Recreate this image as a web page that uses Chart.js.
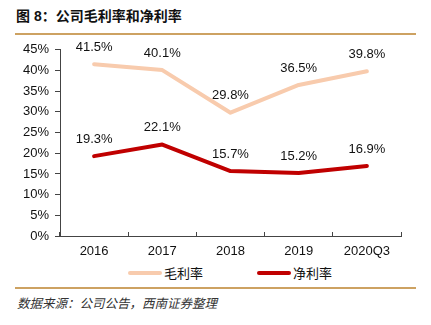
<!DOCTYPE html>
<html lang="zh">
<head>
  <meta charset="UTF-8" />
  <title>公司毛利率和净利率</title>
  <script src="https://cdn.jsdelivr.net/npm/chart.js"></script>
  <style>
    body {
      margin: 0;
      width: 431px;
      height: 325px;
      background: #fff;
      position: relative;
      overflow: hidden;
      font-family: 'Liberation Sans', Arial, 'Noto Sans CJK SC', sans-serif;
    }

    .title {
      position: absolute;
      left: 16px;
      top: 5px;
      font-family: 'Liberation Sans', 'Noto Sans CJK SC', sans-serif;
      font-weight: bold;
      font-size: 14px;
      color: #111;
    }

    .rule {
      position: absolute;
      left: 15px;
      width: 401px;
      background: #CDA262;
    }

    .chart-box {
      position: absolute;
      left: 0;
      top: 36px;
      width: 431px;
      height: 224px;
    }

    .legend {
      position: absolute;
      top: 264px;
      left: 0;
      width: 431px;
      height: 18px;
      font-family: 'Noto Sans CJK SC', sans-serif;
      font-size: 13px;
      color: #111;
    }

    .legend span {
      position: absolute;
      top: 0;
      line-height: 18px;
    }

    .legend i {
      position: absolute;
      top: 7px;
      width: 34px;
      height: 4px;
      border-radius: 2px;
    }

    .source {
      position: absolute;
      left: 17px;
      top: 293px;
      font-family: 'Noto Sans CJK SC', sans-serif;
      font-style: italic;
      font-size: 12.5px;
      color: #333;
    }
  </style>
</head>
<body>

<div class="title">图 8：公司毛利率和净利率</div>
<div class="rule" style="top:33px;height:2px;"></div>

<div class="chart-box"><canvas id="chart"></canvas></div>

<div class="legend" id="legend"></div>

<div class="rule" style="top:287px;height:1.5px;"></div>
<div class="source">数据来源：公司公告，西南证券整理</div>

<script>
const categories = ['2016', '2017', '2018', '2019', '2020Q3'];
const grossMargin = [41.5, 40.1, 29.8, 36.5, 39.8];
const netMargin = [19.3, 22.1, 15.7, 15.2, 16.9];
const seriesNames = ['毛利率', '净利率'];
const seriesColors = ['#F8CBAD', '#C00000'];

// values printed above each point
const pointLabels = {
  id: 'pointLabels',
  afterDatasetsDraw(chart) {
    const ctx = chart.ctx;
    ctx.save();
    ctx.font = '13px "Liberation Sans", Arial, sans-serif';
    ctx.fillStyle = '#111';
    ctx.textAlign = 'center';
    ctx.textBaseline = 'middle';
    chart.data.datasets.forEach((ds, i) => {
      chart.getDatasetMeta(i).data.forEach((pt, j) => {
        ctx.fillText(ds.data[j].toFixed(1) + '%', pt.x, pt.y - 17);
      });
    });
    ctx.restore();
  }
};

new Chart(document.getElementById('chart'), {
  type: 'line',
  data: {
    labels: categories,
    datasets: [
      { label: seriesNames[0], data: grossMargin, borderColor: seriesColors[0], backgroundColor: seriesColors[0], borderWidth: 4 },
      { label: seriesNames[1], data: netMargin, borderColor: seriesColors[1], backgroundColor: seriesColors[1], borderWidth: 4 }
    ]
  },
  options: {
    responsive: true,
    maintainAspectRatio: false,
    animation: false,
    layout: { padding: { left: 0, right: 30, top: 13, bottom: 0 } },
    elements: {
      line: { tension: 0, borderCapStyle: 'round', borderJoinStyle: 'round' },
      point: { radius: 0, hoverRadius: 0 }
    },
    plugins: {
      legend: { display: false },
      tooltip: { enabled: false }
    },
    scales: {
      x: {
        offset: true,
        grid: { offset: true, drawOnChartArea: false, color: '#444', tickLength: -4 },
        border: { color: '#444', width: 1 },
        ticks: {
          padding: 12,
          color: '#111',
          font: { family: '"Liberation Sans", Arial, sans-serif', size: 13 }
        },
        afterFit(scale) { scale.height = 24; }
      },
      y: {
        min: 0,
        max: 45,
        grid: { drawOnChartArea: false, color: '#444', tickLength: 5 },
        border: { color: '#444', width: 1 },
        ticks: {
          stepSize: 5,
          padding: 6,
          color: '#111',
          font: { family: '"Liberation Sans", Arial, sans-serif', size: 13 },
          callback: v => v + '%'
        },
        afterFit(scale) { scale.width = 60; }
      }
    }
  },
  plugins: [pointLabels]
});

// legend drawn as html, same colours as the datasets
const legendPos = [128, 257];
document.getElementById('legend').innerHTML = seriesNames.map((name, i) =>
  `<i style="left:${legendPos[i]}px;background:${seriesColors[i]}"></i>` +
  `<span style="left:${legendPos[i] + 36}px">${name}</span>`
).join('');
</script>

</body>
</html>
